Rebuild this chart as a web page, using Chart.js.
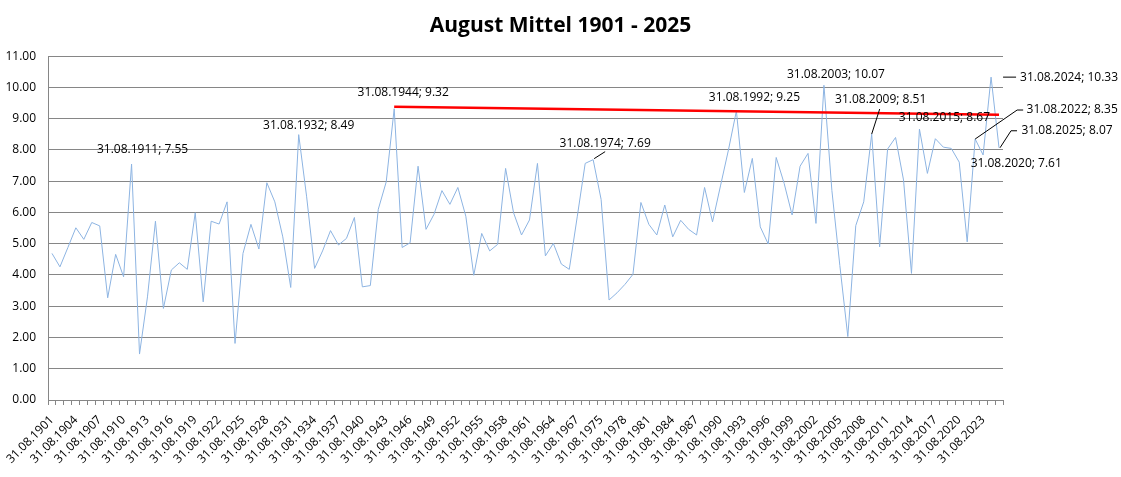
<!DOCTYPE html>
<html>
<head>
<meta charset="utf-8">
<script src="https://cdn.jsdelivr.net/npm/chart.js@4.4.1/dist/chart.umd.min.js"></script>
<style>
  html, body { margin: 0; padding: 0; background: #fff; }
  #wrap { width: 1121px; height: 477px; }
</style>
</head>
<body>
<div id="wrap"><canvas id="canvas" width="1121" height="477"></canvas></div>
<script>
// years in the sheet (1968 - 1972 are missing)
var years = [
  1901, 1902, 1903, 1904, 1905, 1906, 1907, 1908, 1909, 1910,
  1911, 1912, 1913, 1914, 1915, 1916, 1917, 1918, 1919, 1920,
  1921, 1922, 1923, 1924, 1925, 1926, 1927, 1928, 1929, 1930,
  1931, 1932, 1933, 1934, 1935, 1936, 1937, 1938, 1939, 1940,
  1941, 1942, 1943, 1944, 1945, 1946, 1947, 1948, 1949, 1950,
  1951, 1952, 1953, 1954, 1955, 1956, 1957, 1958, 1959, 1960,
  1961, 1962, 1963, 1964, 1965, 1966, 1967,
  1973, 1974, 1975, 1976, 1977, 1978, 1979, 1980,
  1981, 1982, 1983, 1984, 1985, 1986, 1987, 1988, 1989, 1990,
  1991, 1992, 1993, 1994, 1995, 1996, 1997, 1998, 1999, 2000,
  2001, 2002, 2003, 2004, 2005, 2006, 2007, 2008, 2009, 2010,
  2011, 2012, 2013, 2014, 2015, 2016, 2017, 2018, 2019, 2020,
  2021, 2022, 2023, 2024, 2025
];

var augustMean = [
  4.69, 4.26, 4.88, 5.51, 5.14, 5.68, 5.57, 3.27, 4.66, 3.94,
  7.55, 1.47, 3.30, 5.72, 2.93, 4.16, 4.39, 4.18, 5.99, 3.14,
  5.72, 5.63, 6.34, 1.81, 4.69, 5.62, 4.83, 6.95, 6.34, 5.22,
  3.60, 8.49, 6.50, 4.21, 4.77, 5.42, 4.96, 5.17, 5.84, 3.62,
  3.66, 6.10, 6.98, 9.32, 4.88, 5.03, 7.48, 5.46, 5.94, 6.70,
  6.26, 6.80, 5.88, 3.99, 5.33, 4.77, 4.98, 7.41, 5.99, 5.28,
  5.76, 7.57, 4.61, 5.01, 4.35, 4.18, 5.86,
  7.57, 7.69, 6.42, 3.20, 3.43, 3.70, 4.02, 6.32,
  5.62, 5.28, 6.24, 5.22, 5.75, 5.46, 5.28, 6.80, 5.70, 6.85,
  8.00, 9.25, 6.64, 7.73, 5.54, 4.99, 7.76, 6.93, 5.92, 7.48,
  7.89, 5.65, 10.07, 6.70, 4.30, 2.03, 5.58, 6.34, 8.51, 4.90,
  8.03, 8.40, 7.04, 4.05, 8.67, 7.25, 8.36, 8.09, 8.05, 7.61,
  5.06, 8.35, 7.84, 10.33, 8.07
];

// red line drawn across the top
var trendYears = [1944, 2025];
var trendValues = [9.38, 9.13];

// years carrying a data label
var labelledYears = [1911, 1932, 1944, 1974, 1992, 2003, 2009, 2015, 2020, 2022, 2024, 2025];

// label placement relative to the point (px), optional leader line
var labelLayout = {
  1911: { dx: 11, dy: -14 },
  1932: { dx: 10, dy: -9 },
  1944: { dx: 9, dy: -16 },
  1974: { dx: 12, dy: -16, leader: [[1, -1], [12, -8]] },
  1992: { dx: 18, dy: -13 },
  2003: { dx: 12, dy: -11 },
  2009: { dx: 9, dy: -34, leader: [[0, 0], [8, -25]] },
  2015: { dx: 25, dy: -11 },
  2020: { dx: 57, dy: 1 },
  2022: { dx: 97, dy: -29, leader: [[0, 0], [42, -29], [48, -29]] },
  2024: { dx: 78, dy: 0, leader: [[12, 0], [25, 0]] },
  2025: { dx: 68, dy: -17, leader: [[1, 0], [12, -17], [18, -17]] }
};

var labels = years.map(function (y) { return '31.08.' + y; });
var trendData = years.map(function (y) {
  var k = trendYears.indexOf(y);
  return k < 0 ? null : trendValues[k];
});

var FONT = '"Open Sans", "Liberation Sans", sans-serif';
var GRID = '#868686';

var dataLabels = {
  id: 'dataLabels',
  afterDatasetsDraw: function (chart) {
    var ctx = chart.ctx;
    var meta = chart.getDatasetMeta(1);
    ctx.save();
    ctx.font = '12px ' + FONT;
    ctx.fillStyle = '#000';
    ctx.textAlign = 'center';
    ctx.textBaseline = 'middle';
    ctx.strokeStyle = '#000';
    ctx.lineWidth = 1;
    labelledYears.forEach(function (y) {
      var i = years.indexOf(y);
      var pt = meta.data[i];
      var lay = labelLayout[y];
      var txt = '31.08.' + y + '; ' + augustMean[i].toFixed(2);
      if (lay.leader) {
        ctx.beginPath();
        lay.leader.forEach(function (p, k) {
          if (k === 0) ctx.moveTo(pt.x + p[0], pt.y + p[1]);
          else ctx.lineTo(pt.x + p[0], pt.y + p[1]);
        });
        ctx.stroke();
      }
      ctx.fillText(txt, pt.x + lay.dx, pt.y + lay.dy);
    });
    ctx.restore();
  }
};

var config = {
  type: 'line',
  data: {
    labels: labels,
    datasets: [{
      label: 'Trend',
      data: trendData,
      borderColor: '#ff0000',
      borderWidth: 2.5,
      pointRadius: 0,
      spanGaps: true,
      tension: 0
    }, {
      label: 'August Mittel',
      data: augustMean,
      borderColor: '#8db4e2',
      borderWidth: 1,
      pointRadius: 0,
      tension: 0
    }]
  },
  options: {
    responsive: false,
    animation: false,
    layout: { padding: 0 },
    plugins: {
      legend: { display: false },
      tooltip: { enabled: false },
      title: {
        display: true,
        text: 'August Mittel 1901 - 2025',
        color: '#000',
        font: { family: FONT, size: 21, weight: 'bold' },
        padding: { top: 13, bottom: 18 }
      }
    },
    scales: {
      x: {
        offset: true,
        grid: { offset: true, drawOnChartArea: false, drawTicks: true, tickLength: 5, color: GRID },
        border: { color: GRID },
        ticks: {
          autoSkip: false,
          minRotation: 45,
          maxRotation: 45,
          padding: 8,
          color: '#000',
          font: { family: FONT, size: 12 },
          callback: function (val, idx) {
            return idx % 3 === 0 ? this.getLabelForValue(val) : '';
          }
        },
        afterFit: function (s) { s.height = 77; }
      },
      y: {
        min: 0,
        max: 11,
        grid: { color: GRID, drawTicks: false },
        border: { color: GRID },
        ticks: {
          stepSize: 0.5,
          padding: 12,
          color: '#000',
          font: { family: FONT, size: 12 },
          callback: function (v) { return v.toFixed(2); }
        },
        afterFit: function (s) { s.width = 48; }
      },
      // empty right-hand margin that keeps room for the outer labels
      yRight: {
        position: 'right',
        display: true,
        grid: { display: false },
        border: { display: false },
        ticks: { display: false },
        afterFit: function (s) { s.width = 118; }
      }
    }
  },
  plugins: [dataLabels]
};

var chart;
window.onload = function () {
  var ctx = document.getElementById('canvas').getContext('2d');
  chart = new Chart(ctx, config);
};
</script>
</body>
</html>
